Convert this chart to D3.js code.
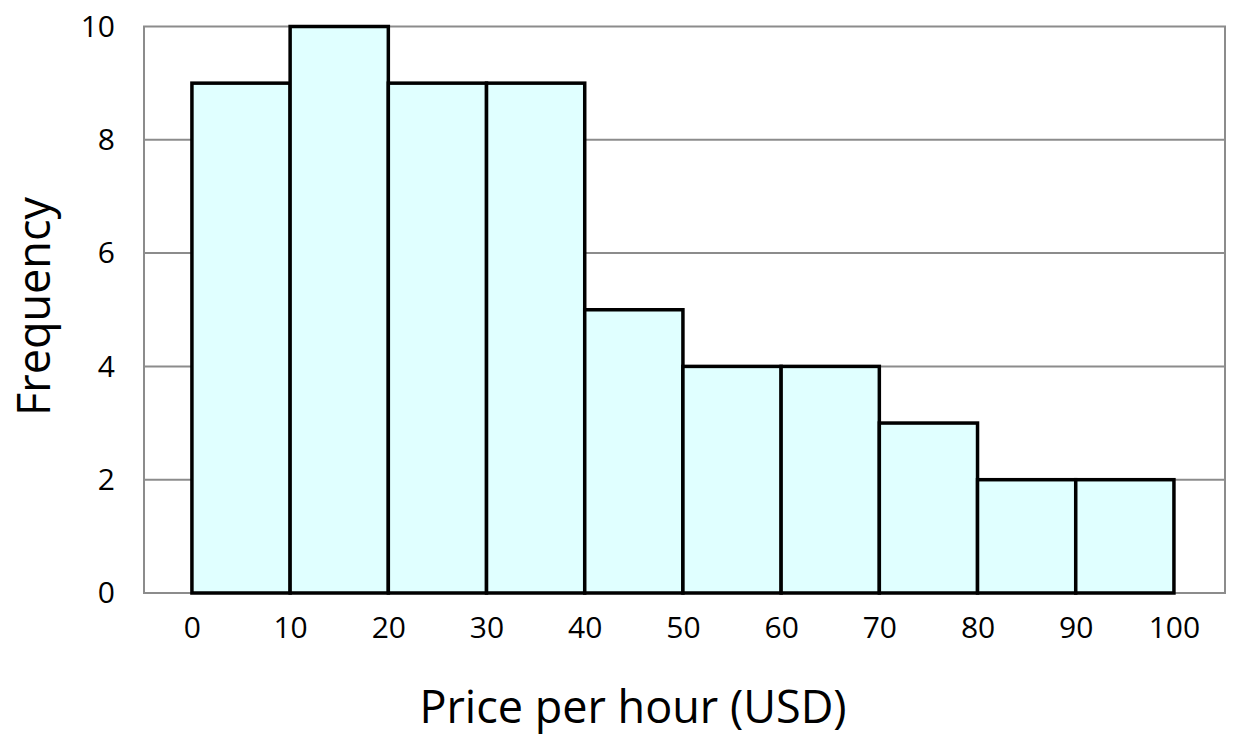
<!DOCTYPE html>
<html><head><meta charset="utf-8">
<script src="https://cdn.jsdelivr.net/npm/d3@7"></script>
<style>body{margin:0;background:#fff}svg{display:block}text{font-family:"Open Sans",sans-serif;fill:#000}</style>
</head><body>
<svg id="c" width="1237" height="740"></svg>
<script>
const binStarts = [0,10,20,30,40,50,60,70,80,90];
const binWidth = 10;
const frequencies = [9,10,9,9,5,4,4,3,2,2];
const xTicks = [0,10,20,30,40,50,60,70,80,90,100];
const yTicks = [0,2,4,6,8,10];
const xTitle = "Price per hour (USD)";
const yTitle = "Frequency";

const svg = d3.select("#c");
const L=144, R=1225, T=26.5, B=593;
const x = d3.scaleLinear().domain([-4.88,105.2]).range([L,R]);
const y = d3.scaleLinear().domain([0,10]).range([B,T]);

svg.append("g").selectAll("line").data(yTicks.filter(d=>d>0&&d<10)).join("line")
  .attr("x1",L).attr("x2",R).attr("y1",d=>y(d)).attr("y2",d=>y(d))
  .attr("stroke","#8c8c8c").attr("stroke-width",2);
svg.append("rect").attr("x",L).attr("y",T).attr("width",R-L).attr("height",B-T)
  .attr("fill","none").attr("stroke","#8c8c8c").attr("stroke-width",2);
svg.append("g").selectAll("rect").data(binStarts).join("rect")
  .attr("x",d=>x(d)).attr("width",d=>x(d+binWidth)-x(d))
  .attr("y",(d,i)=>y(frequencies[i])).attr("height",(d,i)=>y(0)-y(frequencies[i]))
  .attr("fill","#e0ffff").attr("stroke","#000").attr("stroke-width",3.5);

const xa = svg.append("g").attr("transform",`translate(0,${B})`)
  .call(d3.axisBottom(x).tickValues(xTicks).tickSize(0).tickPadding(24).tickFormat(d3.format("d")));
xa.select(".domain").remove();
xa.selectAll("text").attr("font-size",30).style("font-family","'Open Sans',sans-serif");
const ya = svg.append("g").attr("transform",`translate(${L},0)`)
  .call(d3.axisLeft(y).tickValues(yTicks).tickSize(0).tickPadding(29).tickFormat(d3.format("d")));
ya.select(".domain").remove();
ya.selectAll("text").attr("font-size",30).style("font-family","'Open Sans',sans-serif");

svg.append("text").attr("x",633).attr("y",723).attr("text-anchor","middle")
  .attr("font-size",45).text(xTitle);
svg.append("text").attr("transform",`translate(50,306.5) rotate(-90)`).attr("text-anchor","middle")
  .attr("font-size",45).text(yTitle);
</script>
</body></html>
